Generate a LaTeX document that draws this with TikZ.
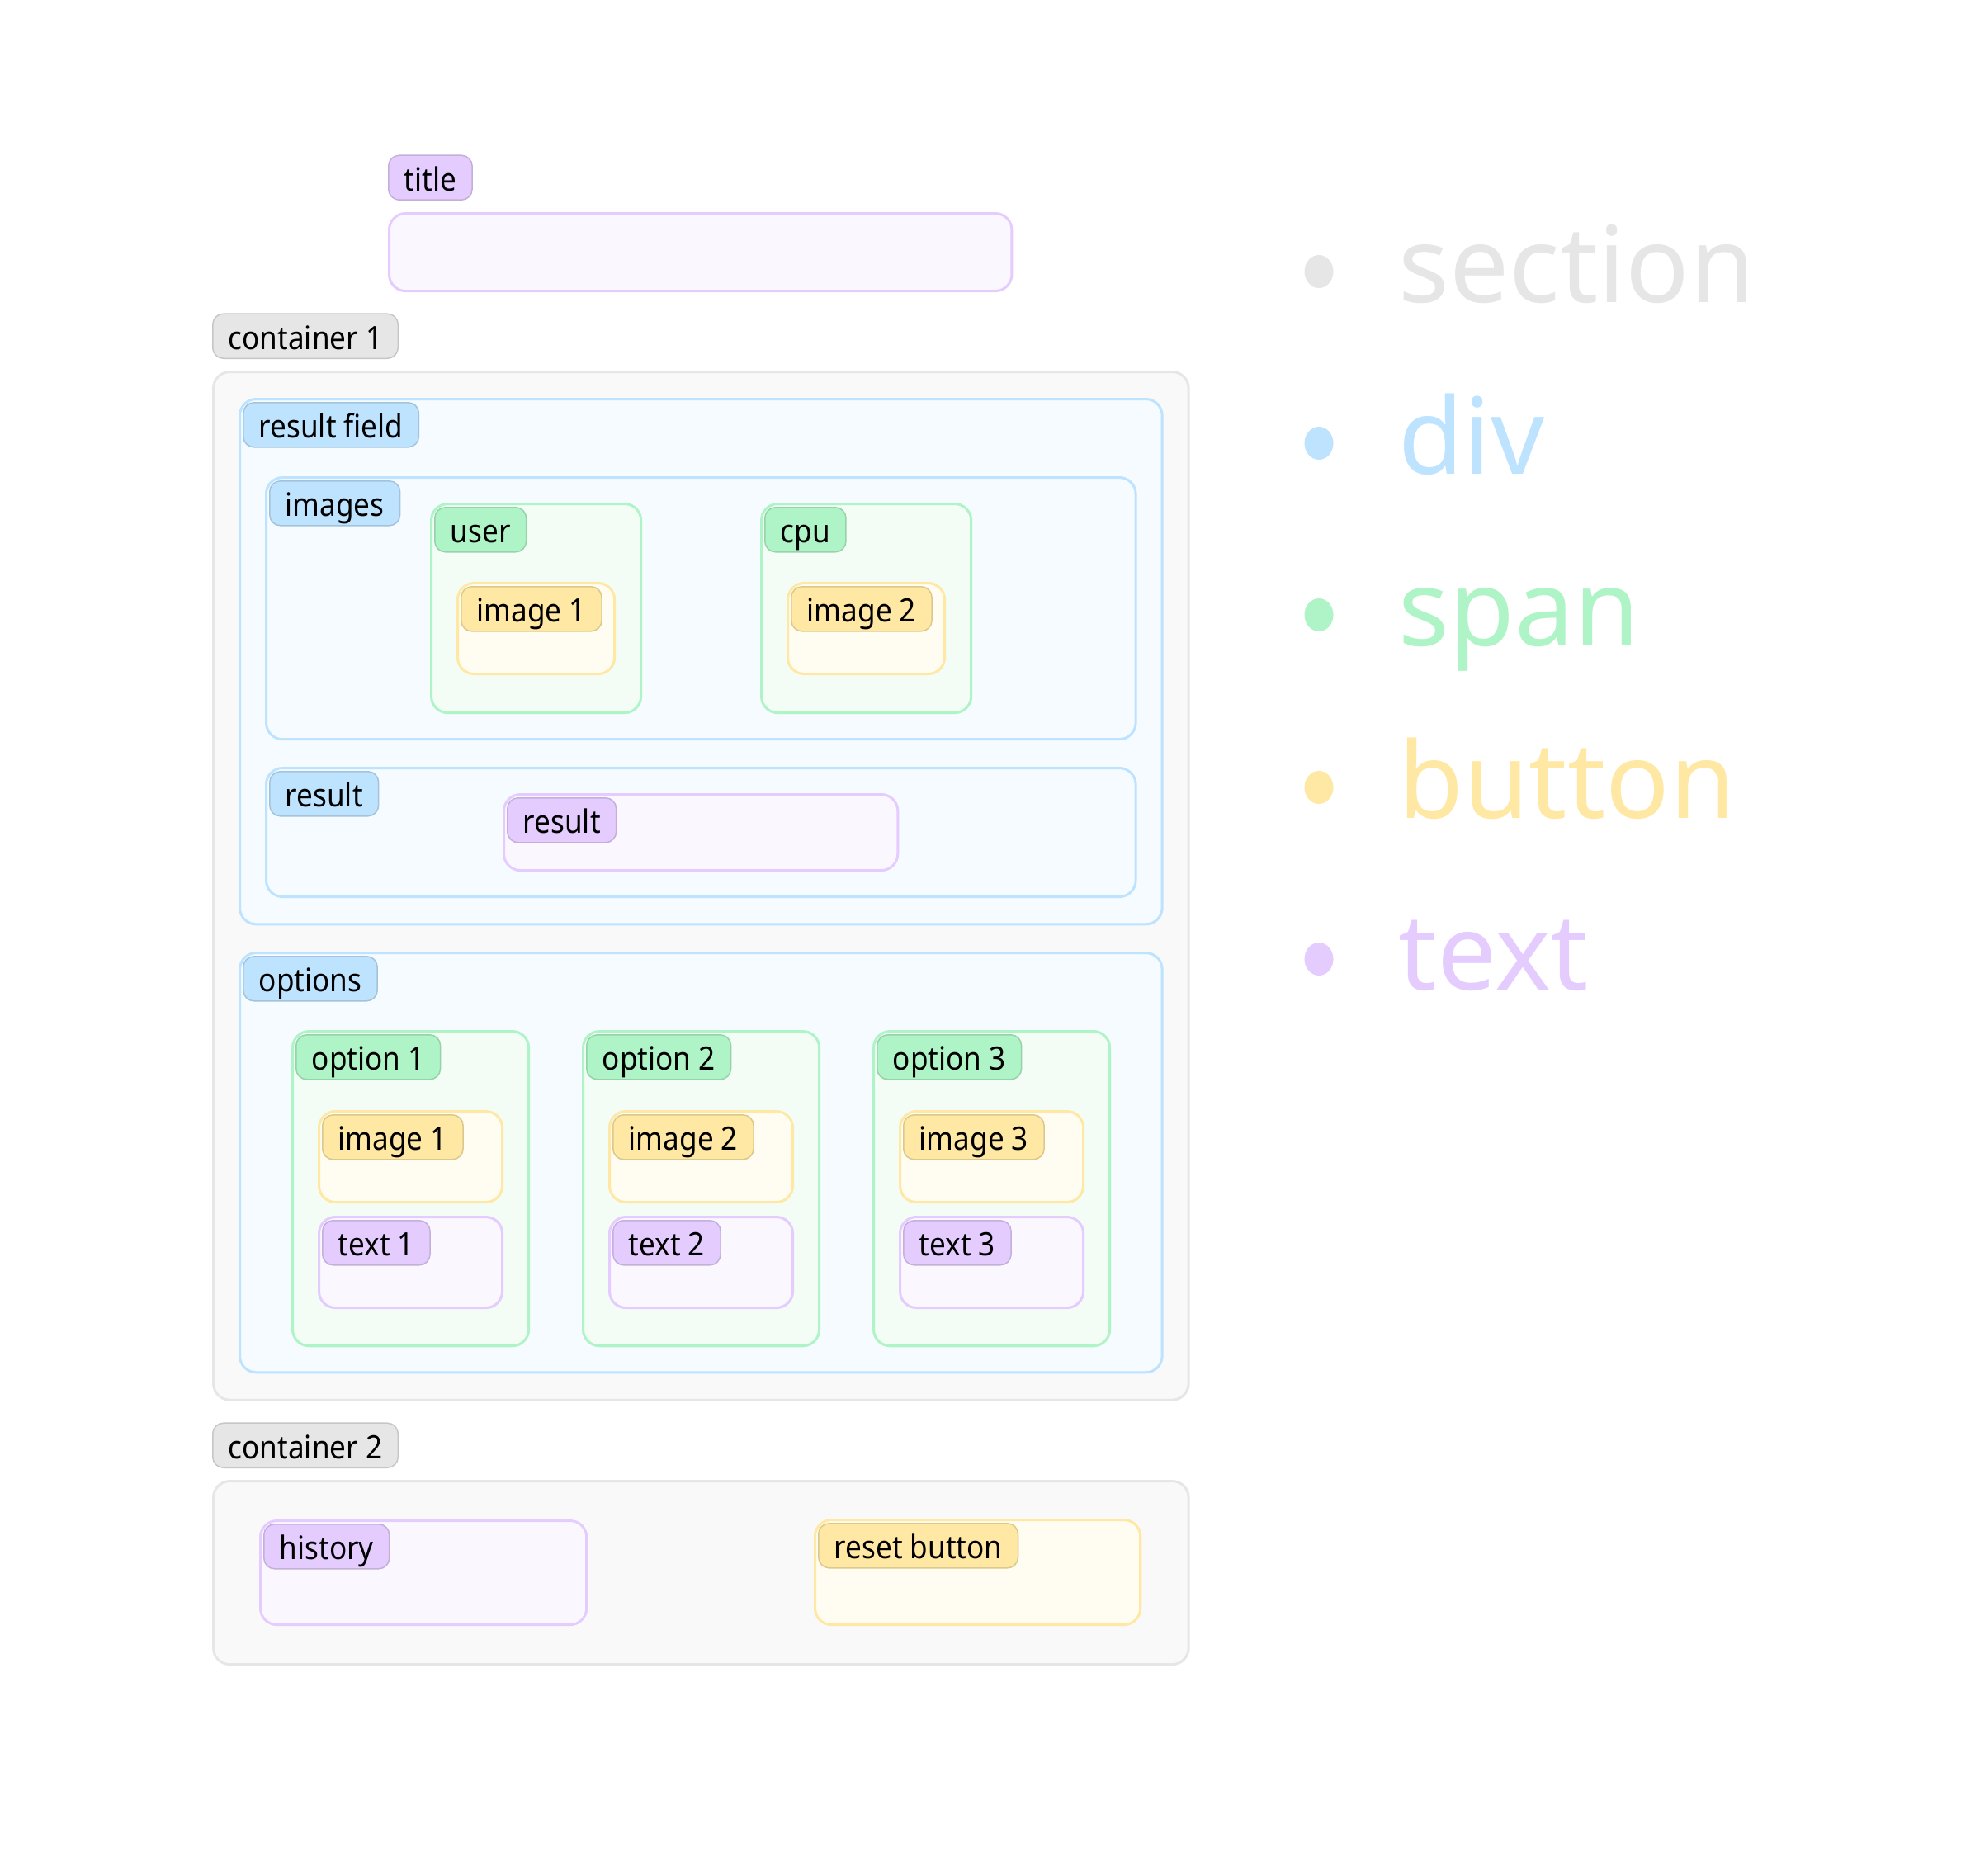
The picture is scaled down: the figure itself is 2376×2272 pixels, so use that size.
\documentclass[tikz,border=0pt]{standalone}
\usepackage{fontspec}
\setmainfont{Noto Sans}[FakeStretch=0.9]
\newfontfamily\legendfont{Noto Sans}
\usetikzlibrary{positioning,shapes.geometric}
\definecolor{sectionGray}{HTML}{E6E6E6}
\definecolor{divBlue}{HTML}{BDE3FF}
\definecolor{spanGreen}{HTML}{AFF4C6}
\definecolor{buttonYellow}{HTML}{FFE8A3}
\definecolor{textPurple}{HTML}{E4CCFF}
\tikzset{
  box/.style={draw=#1,fill=#1!15!white,line width=0.03cm,rounded corners=0.2cm,anchor=north west,inner sep=0pt},
  tag/.style={draw=#1!86!black,fill=#1,line width=0.015cm,rounded corners=0.13cm,minimum height=0.54cm,inner xsep=0.19cm,inner ysep=0pt,text height=0.32cm,text depth=0cm,font=\fontsize{11.1}{13}\selectfont},
  dot/.style={ellipse,fill=#1,minimum width=0.35cm,minimum height=0.40cm,inner sep=0pt},
  legend/.style={text=#1,anchor=base west,inner sep=0pt,font=\legendfont\fontsize{36.5}{40}\selectfont}
}
\begin{document}
\begin{tikzpicture}[x=0.01cm,y=-0.01cm,node distance=0.05cm and 0.05cm]
  \useasboundingbox (0,0) rectangle (2376,2272);
  % title
  \node[box=textPurple,minimum width=7.54cm,minimum height=0.94cm] (titlebox) at (470,257) {};
  \node[tag=textPurple,above right=0.14cm and 0cm of titlebox.north west] (titletag) {title};
  % container 1
  \node[box=sectionGray,fill=sectionGray!25!white,minimum width=11.81cm,minimum height=12.45cm] (cont1) at (257,449) {};
  \node[tag=sectionGray,above right=0.14cm and 0cm of cont1.north west] (cont1tag) {container 1};
  \node[box=divBlue,minimum width=11.17cm,minimum height=6.36cm] (field) at (289,482) {};
  \node[tag=divBlue,below right=of field.north west] (fieldtag) {result field};
  \node[box=divBlue,minimum width=10.53cm,minimum height=3.17cm] (imgs) at (321,577) {};
  \node[tag=divBlue,below right=of imgs.north west] (imgstag) {images};
  \node[box=spanGreen,minimum width=2.54cm,minimum height=2.53cm] (user) at (521,609) {};
  \node[tag=spanGreen,below right=of user.north west] (usertag) {user};
  \node[box=buttonYellow,minimum width=1.90cm,minimum height=1.10cm] (userimg) at (553,705) {};
  \node[tag=buttonYellow,below right=of userimg.north west] (userimgtag) {image 1};
  \node[box=spanGreen,minimum width=2.54cm,minimum height=2.53cm] (cpu) at (921,609) {};
  \node[tag=spanGreen,below right=of cpu.north west] (cputag) {cpu};
  \node[box=buttonYellow,minimum width=1.90cm,minimum height=1.10cm] (cpuimg) at (953,705) {};
  \node[tag=buttonYellow,below right=of cpuimg.north west] (cpuimgtag) {image 2};
  \node[box=divBlue,minimum width=10.53cm,minimum height=1.56cm] (res) at (321,929) {};
  \node[tag=divBlue,below right=of res.north west] (restag) {result};
  \node[box=textPurple,minimum width=4.77cm,minimum height=0.92cm] (restext) at (609,961) {};
  \node[tag=textPurple,below right=of restext.north west] (restexttag) {result};
  % options
  \node[box=divBlue,minimum width=11.17cm,minimum height=5.08cm] (opts) at (289,1153) {};
  \node[tag=divBlue,below right=of opts.north west] (optstag) {options};
  \node[box=spanGreen,minimum width=2.86cm,minimum height=3.81cm] (opt1) at (353,1248) {};
  \node[tag=spanGreen,below right=of opt1.north west] (opt1tag) {option 1};
  \node[box=buttonYellow,minimum width=2.22cm,minimum height=1.10cm] (opt1img) at (385,1345) {};
  \node[tag=buttonYellow,below right=of opt1img.north west] (opt1imgtag) {image 1};
  \node[box=textPurple,minimum width=2.22cm,minimum height=1.10cm] (opt1text) at (385,1473) {};
  \node[tag=textPurple,below right=of opt1text.north west] (opt1texttag) {text 1};
  \node[box=spanGreen,minimum width=2.86cm,minimum height=3.81cm] (opt2) at (705,1248) {};
  \node[tag=spanGreen,below right=of opt2.north west] (opt2tag) {option 2};
  \node[box=buttonYellow,minimum width=2.22cm,minimum height=1.10cm] (opt2img) at (737,1345) {};
  \node[tag=buttonYellow,below right=of opt2img.north west] (opt2imgtag) {image 2};
  \node[box=textPurple,minimum width=2.22cm,minimum height=1.10cm] (opt2text) at (737,1473) {};
  \node[tag=textPurple,below right=of opt2text.north west] (opt2texttag) {text 2};
  \node[box=spanGreen,minimum width=2.86cm,minimum height=3.81cm] (opt3) at (1057,1248) {};
  \node[tag=spanGreen,below right=of opt3.north west] (opt3tag) {option 3};
  \node[box=buttonYellow,minimum width=2.22cm,minimum height=1.10cm] (opt3img) at (1089,1345) {};
  \node[tag=buttonYellow,below right=of opt3img.north west] (opt3imgtag) {image 3};
  \node[box=textPurple,minimum width=2.22cm,minimum height=1.10cm] (opt3text) at (1089,1473) {};
  \node[tag=textPurple,below right=of opt3text.north west] (opt3texttag) {text 3};
  % container 2
  \node[box=sectionGray,fill=sectionGray!25!white,minimum width=11.81cm,minimum height=2.22cm] (cont2) at (257,1793) {};
  \node[tag=sectionGray,above right=0.14cm and 0cm of cont2.north west] (cont2tag) {container 2};
  \node[box=textPurple,minimum width=3.95cm,minimum height=1.26cm] (hist) at (314,1841) {};
  \node[tag=textPurple,below right=of hist.north west] (histtag) {history};
  \node[box=buttonYellow,minimum width=3.94cm,minimum height=1.27cm] (reset) at (986,1840) {};
  \node[tag=buttonYellow,below right=of reset.north west] (resettag) {reset button};
  % legend
  \node[dot=sectionGray] (dotsection) at (1598,329) {};
  \node[legend=sectionGray] (legsection) at (1694,366) {section};
  \node[dot=divBlue] (dotdiv) at (1598,537) {};
  \node[legend=divBlue] (legdiv) at (1694,574) {div};
  \node[dot=spanGreen] (dotspan) at (1598,745) {};
  \node[legend=spanGreen] (legspan) at (1694,782) {span};
  \node[dot=buttonYellow] (dotbutton) at (1598,954) {};
  \node[legend=buttonYellow] (legbutton) at (1694,991) {button};
  \node[dot=textPurple] (dottext) at (1598,1162) {};
  \node[legend=textPurple] (legtext) at (1694,1199) {text};
\end{tikzpicture}
\end{document}
